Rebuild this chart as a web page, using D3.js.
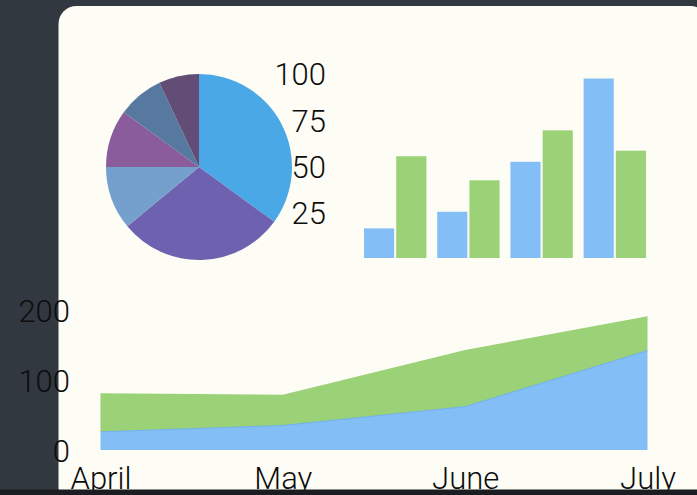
<!DOCTYPE html>
<html>
<head>
<meta charset="utf-8">
<script src="https://cdn.jsdelivr.net/npm/d3@7"></script>
<style>
  html, body { margin: 0; padding: 0; background: #323840; overflow: hidden; }
  svg { display: block; }
  text { font-family: "Helvetica Neue", Roboto, "Liberation Sans", sans-serif; font-weight: 300; fill: #0d0d0d; }
</style>
</head>
<body>
<svg id="chart" width="697" height="495"></svg>
<script>
// ---- data ----
const months = ["April", "May", "June", "July"];
const areaBlue = [26, 35, 62, 142];
const areaGreen = [55, 44, 81, 49];
const areaTicks = [0, 100, 200];

const barGroups = ["g1", "g2", "g3", "g4"];
const barBlue = [16, 25, 52, 97];
const barGreen = [55, 42, 69, 58];
const barTicks = [25, 50, 75, 100];

const pieValues = [35, 29, 11, 10, 8, 7];
const pieColors = ["#4aa8e6", "#6e62b0", "#759fcc", "#8b5c9b", "#57799f", "#614d76"];

const blue = "#84bef6";
const green = "#9bd177";

// ---- svg ----
const svg = d3.select("#chart");
const W = 697, H = 495;

svg.append("rect").attr("width", W).attr("height", H).attr("fill", "#323840");
// card
svg.append("rect")
  .attr("x", 58.5).attr("y", 6).attr("width", 650).attr("height", 500)
  .attr("rx", 18).attr("ry", 18)
  .attr("fill", "#fdfdf6");

const fontSize = 31;

// ---- pie ----
const pie = d3.pie().sort(null).value(d => d);
const arc = d3.arc().innerRadius(0).outerRadius(93);
const pieG = svg.append("g").attr("transform", "translate(199,167)");
pieG.selectAll("path")
  .data(pie(pieValues))
  .join("path")
  .attr("d", arc)
  .attr("fill", (d, i) => pieColors[i]);

// ---- grouped bars ----
const xBar = d3.scaleBand().domain(barGroups).range([364, 646]).paddingInner(0.148).paddingOuter(0);
const xBarInner = d3.scaleBand().domain([0, 1]).range([0, xBar.bandwidth()]).paddingInner(0.065);
const yBar = d3.scaleLinear().domain([0, 100]).range([258, 73]);

const barData = barGroups.map((g, i) => ({ g, vals: [barBlue[i], barGreen[i]] }));
const bg = svg.append("g");
bg.selectAll("g")
  .data(barData)
  .join("g")
  .attr("transform", d => `translate(${xBar(d.g)},0)`)
  .selectAll("rect")
  .data(d => d.vals)
  .join("rect")
  .attr("x", (d, i) => xBarInner(i))
  .attr("width", xBarInner.bandwidth())
  .attr("y", d => yBar(d))
  .attr("height", d => yBar(0) - yBar(d))
  .attr("fill", (d, i) => i === 0 ? blue : green);

// bar value axis labels (no line)
const barAxis = d3.axisLeft(yBar).tickValues(barTicks).tickSize(0).tickPadding(0);
const barAxisG = svg.append("g").attr("transform", "translate(326,2)").call(barAxis);
barAxisG.select(".domain").remove();
barAxisG.selectAll("text")
  .attr("font-size", fontSize)
  .attr("font-family", null)
  .attr("fill", null);

// ---- stacked area ----
const xArea = d3.scalePoint().domain(months).range([100.5, 647.5]);
const yArea = d3.scaleLinear().domain([0, 200]).range([450, 310]);

const areaRows = months.map((m, i) => ({ month: m, blue: areaBlue[i], green: areaGreen[i] }));
const stack = d3.stack().keys(["blue", "green"]);
const series = stack(areaRows);

const area = d3.area()
  .x(d => xArea(d.data.month))
  .y0(d => yArea(d[0]))
  .y1(d => yArea(d[1]));

svg.append("g").selectAll("path")
  .data(series)
  .join("path")
  .attr("d", area)
  .attr("fill", d => d.key === "blue" ? blue : green);

const topLine = d3.line()
  .x(d => xArea(d.data.month))
  .y(d => yArea(d[1]));
svg.append("path")
  .datum(series[0])
  .attr("d", topLine)
  .attr("fill", "none")
  .attr("stroke", "#6cb0ea")
  .attr("stroke-width", 1);

// area y axis labels
const yAxis = d3.axisLeft(yArea).tickValues(areaTicks).tickSize(0).tickPadding(0);
const yAxisG = svg.append("g").attr("transform", "translate(70,1.5)").call(yAxis);
yAxisG.select(".domain").remove();
yAxisG.selectAll("text")
  .attr("font-size", fontSize)
  .attr("font-family", null)
  .attr("fill", null);

// x axis labels
const xAxis = d3.axisBottom(xArea).tickSize(0).tickPadding(0);
const xAxisG = svg.append("g").attr("transform", "translate(0,489)").call(xAxis);
xAxisG.select(".domain").remove();
xAxisG.selectAll("text")
  .attr("font-size", fontSize)
  .attr("font-family", null)
  .attr("fill", null)
  .attr("dy", "0");

// bottom dark band
svg.append("rect").attr("x", 0).attr("y", 489.5).attr("width", W).attr("height", 6).attr("fill", "#1b1e21");
</script>
</body>
</html>
